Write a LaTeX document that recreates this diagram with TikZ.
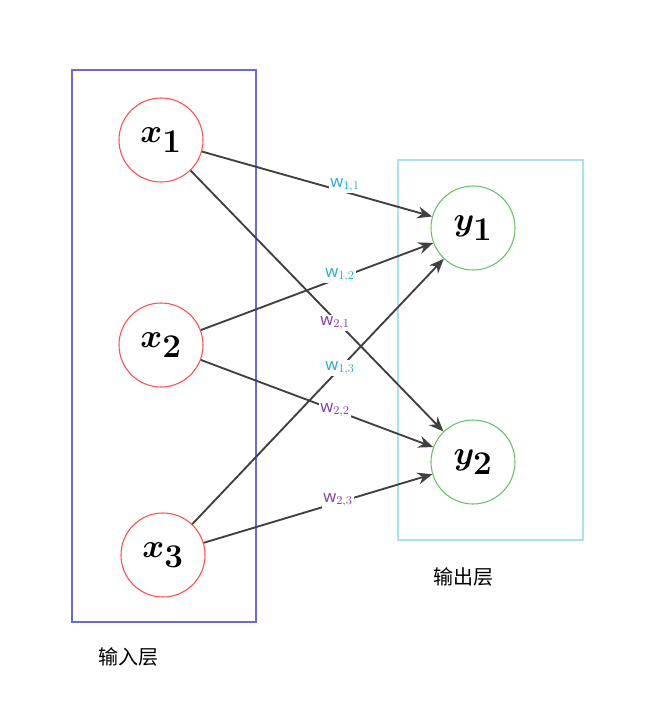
\documentclass[tikz,border=0pt]{standalone}
\usepackage{bm}
\usepackage{fontspec}
\newfontfamily\cjk{Noto Sans CJK SC}
\setsansfont{Open Sans}
\usetikzlibrary{arrows.meta}
\definecolor{inblue}{RGB}{105,105,215}
\definecolor{outcyan}{RGB}{170,225,235}
\definecolor{wcyan}{RGB}{40,170,215}
\definecolor{wpurple}{RGB}{135,60,160}
\tikzset{
	inneuron/.style={circle, draw=red!70, line width=0.8pt, fill=white, minimum size=63pt, inner sep=0pt, font=\fontsize{34}{38}\selectfont},
	outneuron/.style={circle, draw=green!60!black!60, line width=0.8pt, fill=white, minimum size=63pt, inner sep=0pt, font=\fontsize{34}{38}\selectfont},
	weight/.style={draw=black!75, line width=1.4pt, -{Stealth[length=11pt,width=9pt]}},
	wlabel/.style={font=\sffamily\fontsize{12.5}{14}\selectfont, fill=white, inner sep=1pt}
}
\begin{document}
\begin{tikzpicture}[x=0.75pt,y=-0.75pt]
	\useasboundingbox (0,0) rectangle (650,717);
	%Ebenen
	\draw[inblue, line width=1.5pt] (72,70) rectangle (256,622);
	\draw[outcyan, line width=1.2pt] (398,160) rectangle (583,540);
	\node[font=\cjk\fontsize{15}{18}\selectfont] (inlabel) at (128,657) {输入层};
	\node[font=\cjk\fontsize{15}{18}\selectfont] (outlabel) at (463,577) {输出层};

	%Neuronen
	\node[inneuron] (x1) at (161,140) {$\bm{x_1}$};
	\node[inneuron] (x2) at (161,345) {$\bm{x_2}$};
	\node[inneuron] (x3) at (163,555) {$\bm{x_3}$};
	\node[outneuron] (y1) at (473,228) {$\bm{y_1}$};
	\node[outneuron] (y2) at (473,462) {$\bm{y_2}$};

	%Gewichte
	\draw[weight] (x1) -- (y1);
	\draw[weight] (x1) -- (y2);
	\draw[weight] (x2) -- (y1);
	\draw[weight] (x2) -- (y2);
	\draw[weight] (x3) -- (y1);
	\draw[weight] (x3) -- (y2);

	\node[wlabel, text=wcyan] (w11) at (345,185) {w$_{1,1}$};
	\node[wlabel, text=wcyan] (w12) at (340,275) {w$_{1,2}$};
	\node[wlabel, text=wpurple] (w21) at (335,323) {w$_{2,1}$};
	\node[wlabel, text=wcyan] (w13) at (340,368) {w$_{1,3}$};
	\node[wlabel, text=wpurple] (w22) at (335,410) {w$_{2,2}$};
	\node[wlabel, text=wpurple] (w23) at (338,500) {w$_{2,3}$};
\end{tikzpicture}
\end{document}
